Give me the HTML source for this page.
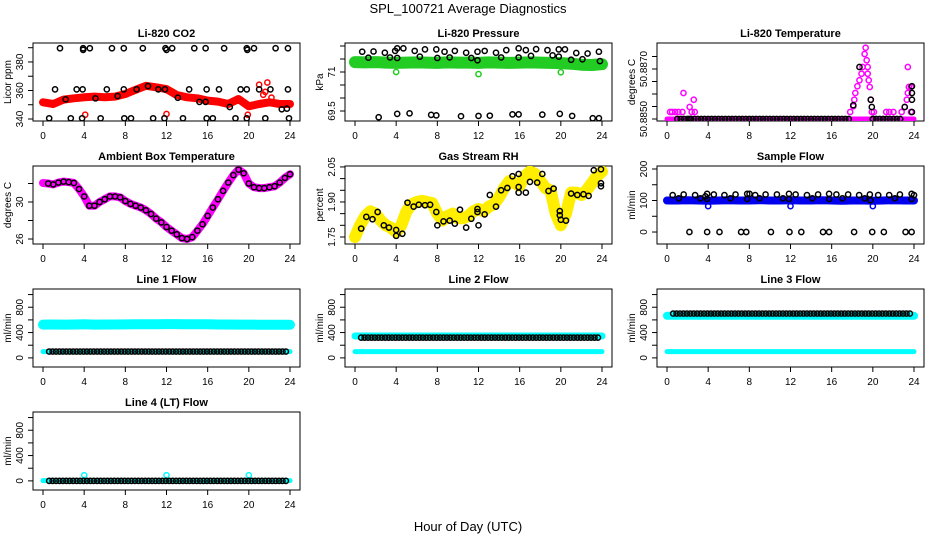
<!DOCTYPE html>
<html><head><meta charset="utf-8"><style>
html,body{margin:0;padding:0;background:#fff}
svg{display:block;font-family:"Liberation Sans",sans-serif}
</style></head><body>
<svg id="chart" width="936" height="540" viewBox="0 0 936 540">
<text x="468" y="13" font-size="13" text-anchor="middle">SPL_100721  Average Diagnostics</text>
<text x="468" y="531" font-size="13" text-anchor="middle">Hour of Day (UTC)</text>
</svg>
<script>
// ---- data ----
const hourTicks=[0,4,8,12,16,20,24];
const co2Band=[351.7,350.5,353.6,354.5,355.2,355.7,355.2,355.7,357.5,360.5,363.3,362.2,361,356.8,355.2,354.5,352.9,352.2,350.5,354,348.9,350.5,351.7,350.5,350.5];
const co2RedH=[4.1,12,19.9,21,21.8,21.4,22.2,21.6];
const co2RedV=[343,343.5,343,364,365.6,357,355,359];
const co2BlackH=[1.65,3.9,3.9,4.55,6.7,7.85,9.7,11.9,12,12.55,14.7,15.8,17.6,19.8,19.85,20.5,22.6,23.8,
 1.17,3.27,3.85,6.2,7.85,9.1,11.85,14.2,15.9,17.1,19.2,19.8,21,22.1,23.8,
 0.6,2.7,3.8,5.6,7.9,8.55,10.7,11.8,13.6,15.9,16.5,18.7,19.8,21.6,23.9,
 2.2,5.1,7.25,10.2,11.2,13.1,15.2,15.8,18.15,23.2,23.7];
const co2BlackV=[389.6,389.6,388.5,389.6,389.6,389.6,389.6,389.6,388.5,389.6,389.6,389.6,389.6,389.6,388.5,389.6,389.6,389.6,
 360.8,360.8,360.8,360.8,360.8,360.8,360.8,360.8,360.8,360.8,360.8,360.8,360.8,360.8,360.8,
 340.5,340.5,340.5,340.5,340.5,340.5,340.5,340.5,340.5,340.5,340.5,340.5,340.5,340.5,340.5,
 353.8,354.5,356.1,363.1,360.8,354.9,352,352,348.4,346.8,347.3];
const presBand=[71.38,71.37,71.38,71.36,71.35,71.36,71.37,71.36,71.35,71.37,71.36,71.36,71.35,71.37,71.36,71.35,71.36,71.37,71.36,71.35,71.34,71.32,71.28,71.27,71.30];
const presGreenH=[4,12,20], presGreenV=[71.0,70.92,70.99];
const presBlackH=[0.7,1.3,1.8,2.9,3.4,3.9,4.1,4.1,4.7,5.8,6.3,6.8,7.9,8,8.7,9.2,9.7,10.8,11.3,11.9,11.9,12.6,13.7,14.2,14.7,15.9,15.9,16.6,17.1,17.6,18.7,19.2,19.8,19.8,20.4,21,21.5,22.1,22.6,23.7,23.8,
 2.3,4.1,5.3,7.4,7.9,10.3,12,13.1,15.3,15.9,18.2,19.9,21.1,23.1,23.7];
const presBlackV=[71.78,71.55,71.79,71.74,71.56,71.81,71.91,71.54,71.91,71.81,71.59,71.87,71.87,71.54,71.78,71.56,71.81,71.74,71.54,71.45,71.78,71.81,71.74,71.56,71.84,71.91,71.56,71.84,71.62,71.88,71.84,71.64,71.59,71.87,71.87,71.47,71.73,71.49,71.71,71.78,71.42,
 69.26,69.39,69.41,69.35,69.33,69.30,69.31,69.32,69.37,69.37,69.36,69.39,69.31,69.22,69.22];
const tempBase=50.8850;
const tempMagH=[0.3,0.5,0.8,1.1,1.5,1.6,2.2,2.4,2.6,2.7,17.8,18.1,18.2,18.3,18.5,18.7,18.9,19.0,19.2,19.3,19.4,19.5,19.5,19.6,19.7,19.8,19.9,20.1,21.3,21.6,22.0,22.8,23.1,23.3,23.4,23.5,23.4,23.7,23.7];
const tempMagV=[50.88528,50.88528,50.88528,50.88528,50.88528,50.88604,50.88548,50.88528,50.88577,50.88528,50.88528,50.88551,50.88577,50.88604,50.88631,50.88655,50.88681,50.88708,50.8876,50.88785,50.88735,50.88708,50.88681,50.88655,50.88628,50.88577,50.88528,50.88528,50.88528,50.88528,50.88528,50.88528,50.88548,50.88577,50.88604,50.88628,50.88708,50.88628,50.88528];
const tempBlackH=[2.2,18.1,18.7,19.8,19.9,20.0,23.1,23.8,23.8,23.8,23.8];
const tempBlackV=[50.8850,50.88555,50.88708,50.88577,50.88548,50.8850,50.88548,50.88631,50.88604,50.88577,50.88528];
const tempBaseBlackHours=[1,2,3,4,5,6,7,8,9,10,11,12,13,14,15,16,17,20,21,22];
const ambient=[32.05,32.0,31.9,32.1,32.2,32.15,32.05,31.4,30.6,29.6,29.6,30.0,30.3,30.6,30.6,30.5,30.1,29.8,29.6,29.4,29.1,28.7,28.2,27.8,27.3,26.9,26.5,26.1,26.0,26.2,26.9,27.6,28.5,29.4,30.3,31.2,32.1,32.9,33.5,33.1,32.0,31.6,31.5,31.5,31.6,31.7,32.1,32.6,33.0];
const rhBand=[1.75,1.80,1.84,1.86,1.85,1.82,1.80,1.79,1.77,1.80,1.86,1.89,1.90,1.905,1.90,1.895,1.85,1.82,1.84,1.85,1.83,1.83,1.84,1.86,1.87,1.86,1.88,1.89,1.92,1.96,1.99,1.98,1.97,2.01,2.03,2.02,1.99,1.96,1.95,1.85,1.80,1.85,1.94,1.94,1.93,1.95,1.98,2.01,2.03];
const rhBlackH=[0.6,1.1,1.7,2.2,2.8,3.3,4.0,4.0,4.6,5.1,5.7,6.2,6.8,7.3,7.9,8.0,8.6,9.2,9.7,10.2,10.8,11.3,11.9,11.9,12.0,12.6,13.1,13.7,14.2,14.8,15.3,15.9,15.9,15.9,16.6,17.0,17.7,18.2,18.8,19.3,19.9,19.9,20.0,20.5,21.0,21.6,22.2,22.7,23.2,23.9,23.9,23.9];
const rhBlackV=[1.786,1.836,1.826,1.857,1.80,1.79,1.78,1.755,1.764,1.897,1.88,1.888,1.886,1.888,1.857,1.80,1.817,1.82,1.807,1.867,1.79,1.828,1.857,1.87,1.80,1.847,1.93,1.88,1.95,1.96,2.01,2.02,1.964,1.94,1.94,1.986,1.983,2.02,1.947,1.957,1.861,1.843,1.824,1.82,1.936,1.93,1.933,1.926,2.036,2.04,1.98,1.967];
const flowBand=[100,100,101,100,99,100,101,100,100,101,100,100,101,100,100,101,100,99,100,100,99,100,101,100,100];
const flowBlueH=[4,12,20], flowBlueV=[82,82,82];
const flowBlackH=[0.55,1.14,1.62,2.73,3.25,3.73,3.9,3.9,4.55,5.58,6.17,6.66,7.79,7.79,8.02,8.57,8.99,9.58,10.68,11.27,11.85,11.85,12.5,13.6,14.12,14.68,15.75,15.75,16.46,17.05,17.6,18.67,19.22,19.71,19.77,20.52,21.59,22.14,22.63,23.77,23.77,24.0,
 2.18,3.9,5.1,7.2,7.7,10.1,11.9,13.05,15.16,15.75,18.18,19.94,21.07,23.18,23.77];
const flowBlackV=[117,107,119,117,107,113,121,105,119,117,107,119,121,105,121,117,107,119,119,107,121,105,119,117,107,119,121,105,119,107,119,117,107,119,101,117,117,107,119,121,105,117,
 0,0,0,0,0,0,0,0,0,0,0,0,0,0,0];
const line1Upper=[525,528,526,527,530,526,527,528,529,530,531,532,533,534,532,531,530,528,527,526,525,524,523,522,522];
const line1Lower=[100,100,100,100,100,100,100,100,100,100,100,100,100,100,100,100,100,100,100,100,100,100,100,100,100];
const line1Black=[100,100,100,100,100,100,100,100,100,100,100,100,100,100,100,100,100,100,100,100,100,100,100,100,100];
const line2Upper=[345,345,345,346,345,345,345,346,345,345,345,346,345,345,345,345,345,346,345,345,345,345,345,345,345];
const line2Lower=[100,100,100,100,100,100,100,100,100,100,100,100,100,100,100,100,100,100,100,100,100,100,100,100,100];
const line2Black=[320,320,320,320,320,320,320,320,320,320,320,320,320,320,320,320,320,320,320,320,320,320,320,320,320];
const line3Upper=[665,665,666,665,664,665,666,665,665,666,665,665,666,667,665,665,664,665,665,664,665,665,664,664,665];
const line3Lower=[100,100,100,100,100,100,100,100,100,100,100,100,100,100,100,100,100,100,100,100,100,100,100,100,100];
const line3Black=[700,700,700,700,700,700,700,700,700,700,700,700,700,700,700,700,700,700,700,700,700,700,700,700,700];
const line4Band=[5,5,5,5,5,5,5,5,5,5,5,5,5,5,5,5,5,5,5,5,5,5,5,5,5];
const line4Black=[0,0,0,0,0,0,0,0,0,0,0,0,0,0,0,0,0,0,0,0,0,0,0,0,0];
const line4CyanH=[4,12,20], line4CyanV=[90,90,90];

// ---- drawing ----
const svg=document.getElementById('chart');
const NS='http://www.w3.org/2000/svg';
function mk(tag,attrs,parent){const e=document.createElementNS(NS,tag);for(const k in attrs)e.setAttribute(k,attrs[k]);(parent||svg).appendChild(e);return e;}
function panel(col,row,name,title,ylab,ylim,ticks,labels){
  const L=33+312*col,R=L+267,T=43+123*row,B=T+78;
  const g=mk('g',{});
  
  
  const x=h=>L+10+h*(247/24);
  const y=v=>B-(v-ylim[0])/(ylim[1]-ylim[0])*(B-T);
  const t=mk('text',{x:(L+R)/2,y:T-6,'font-size':11,'font-weight':'bold','text-anchor':'middle'},g);
  t.textContent=title;
  
  
  const box=mk('rect',{x:L,y:T,width:R-L,height:B-T,fill:'none',stroke:'#000','stroke-width':1},g);
  
  
  const xa=mk('g',{},g);
  
  
  mk('line',{x1:x(0),x2:x(24),y1:B,y2:B,stroke:'#000'},xa);
  hourTicks.forEach(h=>{mk('line',{x1:x(h),x2:x(h),y1:B,y2:B+5,stroke:'#000'},xa);
    const tl=mk('text',{x:x(h),y:B+18,'font-size':10,'text-anchor':'middle'},xa);tl.textContent=h;});
  const ya=mk('g',{},g);
  
  
  mk('line',{x1:L,x2:L,y1:y(ticks[0]),y2:y(ticks[ticks.length-1]),stroke:'#000'},ya);
  ticks.forEach(v=>mk('line',{x1:L-5,x2:L,y1:y(v),y2:y(v),stroke:'#000'},ya));
  labels.forEach(v=>{const yy=y(v);const tl=mk('text',{x:0,y:0,'font-size':10,'text-anchor':'middle',transform:`translate(${L-10},${yy}) rotate(-90)`},ya);tl.textContent=v;});
  const yt=mk('text',{x:0,y:0,'font-size':10,'text-anchor':'middle',transform:`translate(${L-22},${(T+B)/2}) rotate(-90)`},g);
  yt.textContent=ylab;
  
  
  const clip='c'+name;
  const cp=mk('clipPath',{id:clip},g);mk('rect',{x:L,y:T,width:R-L,height:B-T},cp);
  const plot=mk('g',{'clip-path':`url(#${clip})`},g);
  return {x,y,g:plot,L,R,T,B};
}
function band(p,vals,step,color,w,name,h0){
  const pts=vals.map((v,i)=>p.x((h0||0)+i*step).toFixed(1)+','+p.y(v).toFixed(1)).join(' ');
  const e=mk('polyline',{points:pts,fill:'none',stroke:color,'stroke-width':w,'stroke-linecap':'round','stroke-linejoin':'round'},p.g);
  
  
}
function pts(p,hs,vs,color,name,sw){
  const gg=mk('g',{},p.g);
  
  
  hs.forEach((h,i)=>mk('circle',{cx:p.x(h),cy:p.y(vs[i]),r:2.6,fill:'none',stroke:color,'stroke-width':sw||1.5},gg));
}
function gridPts(p,vals,start,end,color,name){
  const hs=[],vs=[];
  for(let h=start;h<=end+1e-6;h+=1/3){hs.push(h);vs.push(vals[Math.min(24,Math.floor(h))]);}
  pts(p,hs,vs,color,name);
}
const B='#000';
let p=panel(0,0,'co2','Li-820 CO2','Licor ppm',[338.6,393.3],[340,350,360,370,380,390],[340,360,380]);
band(p,co2Band,1,'#ff0000',8,'co2-red-band');
pts(p,co2RedH,co2RedV,'#ff0000','co2-red-outliers');
pts(p,co2BlackH,co2BlackV,B,'co2-black-points');
p=panel(1,0,'pressure','Li-820 Pressure','kPa',[69.115,72.115],[69.5,70,70.5,71,71.5,72],[69.5,71.0]);
band(p,presBand,1,'#22cc22',12,'pressure-green-band');
pts(p,presGreenH,presGreenV,'#22cc22','pressure-green-outliers');
pts(p,presBlackH,presBlackV,B,'pressure-black-points');
p=panel(2,0,'li820-temp','Li-820 Temperature','degrees C',[50.88492,50.88804],[50.885,50.8855,50.886,50.8865,50.887,50.8875],['50.8850','50.8870']);
band(p,[tempBase,tempBase],24,'#ff00ff',5,'temp-magenta-baseline');
pts(p,tempMagH,tempMagV,'#ff00ff','temp-magenta-points');
pts(p,tempBaseBlackHours.flatMap(h=>[h,h+0.33,h+0.66]),tempBaseBlackHours.flatMap(h=>[tempBase,tempBase,tempBase]),B,'temp-black-baseline');
pts(p,tempBlackH,tempBlackV,B,'temp-black-points');
p=panel(0,1,'ambient','Ambient Box Temperature','degrees C',[25.46,33.89],[26,28,30,32],[26,30]);
band(p,ambient,0.5,'#ff00ff',8,'ambient-magenta-band');
pts(p,ambient.map((v,i)=>i*0.5).slice(1),ambient.slice(1),B,'ambient-black-points');
p=panel(1,1,'rh','Gas Stream RH','percent',[1.72,2.054],[1.75,1.8,1.85,1.9,1.95,2.0,2.05],['1.75','1.90','2.05']);
band(p,rhBand,0.5,'#ffee00',12,'rh-yellow-band');
pts(p,rhBlackH,rhBlackV,B,'rh-black-points');
p=panel(2,1,'sample-flow','Sample Flow','ml/min',[-38,209.5],[0,50,100,150,200],[0,100,200]);
band(p,flowBand,1,'#0000ee',8,'sample-blue-band');
pts(p,flowBlueH,flowBlueV,'#0000ee','sample-blue-outliers');
pts(p,flowBlackH,flowBlackV,B,'sample-black-points');
const fl=[-144,1088],ft=[0,200,400,600,800,1000],flab=[0,400,800];
p=panel(0,2,'line1','Line 1 Flow','ml/min',fl,ft,flab);
band(p,line1Upper,1,'#00ffff',10,'line1-upper-band');
band(p,line1Lower,1,'#00ffff',5,'line1-lower-band');
gridPts(p,line1Black,0.6,23.9,B,'line1-black-points');
p=panel(1,2,'line2','Line 2 Flow','ml/min',fl,ft,flab);
band(p,line2Upper,1,'#00ffff',7,'line2-upper-band');
band(p,line2Lower,1,'#00ffff',5,'line2-lower-band');
gridPts(p,line2Black,0.6,23.9,B,'line2-black-points');
p=panel(2,2,'line3','Line 3 Flow','ml/min',fl,ft,flab);
band(p,line3Upper,1,'#00ffff',8,'line3-upper-band');
band(p,line3Lower,1,'#00ffff',5,'line3-lower-band');
gridPts(p,line3Black,0.6,23.9,B,'line3-black-points');
p=panel(0,3,'line4','Line 4 (LT) Flow','ml/min',fl,ft,flab);
band(p,line4Band,1,'#00ffff',5,'line4-cyan-band');
pts(p,line4CyanH,line4CyanV,'#00ffff','line4-cyan-outliers');
gridPts(p,line4Black,0.6,23.9,B,'line4-black-points');
</script>
</body></html>
